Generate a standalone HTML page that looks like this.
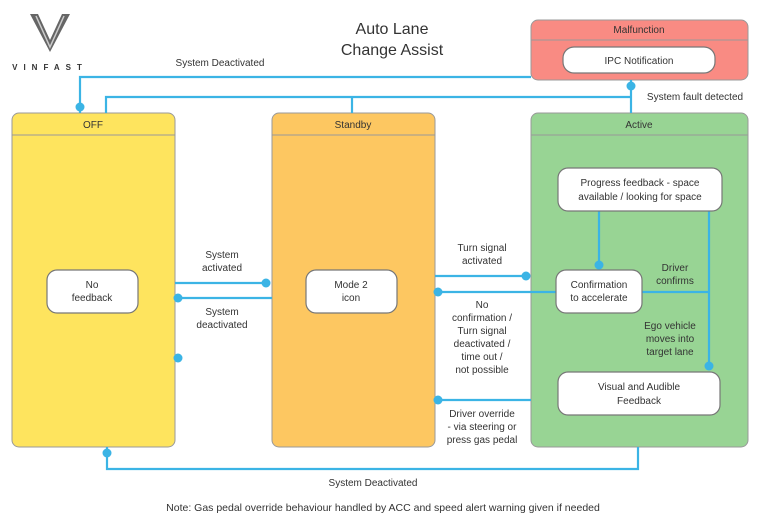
<!DOCTYPE html>
<html><head><meta charset="utf-8"><style>
html,body{margin:0;padding:0;background:#fff;}
svg{display:block;}
text{font-family:"Liberation Sans",sans-serif;fill:#333;}
</style></head><body>
<svg width="760" height="526" viewBox="0 0 760 526" xmlns="http://www.w3.org/2000/svg">
<!-- logo -->
<g>
<path d="M30 14 L50 52 L70 14 L62 14 L50 40 L38 14 Z" fill="#666"/>
<path d="M36 16 L50 47 L64 16" fill="none" stroke="#ccc" stroke-width="1.5"/>
<text x="50" y="70" font-size="8" text-anchor="middle" letter-spacing="6" fill="#666" font-weight="bold">VINFAST</text>
</g>
<text x="392" y="34" font-size="16" text-anchor="middle">Auto Lane</text>
<text x="392" y="55" font-size="16" text-anchor="middle">Change Assist</text>

<!-- boxes -->
<g stroke="#999" stroke-width="1">
<rect x="12" y="113" width="163" height="334" rx="7" fill="#fee45e"/>
<rect x="272" y="113" width="163" height="334" rx="7" fill="#fdc761"/>
<rect x="531" y="113" width="217" height="334" rx="7" fill="#98d494"/>
<rect x="531" y="20" width="217" height="60" rx="7" fill="#f98b83"/>
</g>
<g stroke="#999" stroke-width="1">
<line x1="12" y1="135" x2="175" y2="135"/>
<line x1="272" y1="135" x2="435" y2="135"/>
<line x1="531" y1="135" x2="748" y2="135"/>
<line x1="531" y1="40" x2="748" y2="40"/>
</g>
<text x="93" y="128" font-size="10" text-anchor="middle">OFF</text>
<text x="353" y="128" font-size="10" text-anchor="middle">Standby</text>
<text x="639" y="128" font-size="10" text-anchor="middle">Active</text>
<text x="639" y="33" font-size="10" text-anchor="middle">Malfunction</text>

<!-- connectors -->
<g stroke="#3bb4e5" stroke-width="2.2" fill="none">
<polyline points="80,113 80,77 531,77"/>
<polyline points="106,113 106,97 631,97"/>
<line x1="352" y1="97" x2="352" y2="113"/>
<line x1="631" y1="80" x2="631" y2="113"/>
<line x1="175" y1="283" x2="266" y2="283"/>
<line x1="178" y1="298" x2="272" y2="298"/>
<line x1="435" y1="276" x2="526" y2="276"/>
<line x1="438" y1="292" x2="556" y2="292"/>
<line x1="438" y1="400" x2="531" y2="400"/>
<line x1="599" y1="211" x2="599" y2="265"/>
<line x1="709" y1="211" x2="709" y2="366"/>
<line x1="642" y1="292" x2="709" y2="292"/>
<polyline points="107,447 107,469 638,469 638,447"/>
</g>

<g fill="#fff" stroke="#777" stroke-width="1.2">
<rect x="563" y="47" width="152" height="26" rx="11"/>
<rect x="47" y="270" width="91" height="43" rx="10"/>
<rect x="306" y="270" width="91" height="43" rx="10"/>
<rect x="558" y="168" width="164" height="43" rx="10"/>
<rect x="556" y="270" width="86" height="43" rx="10"/>
<rect x="558" y="372" width="162" height="43" rx="10"/>
</g>
<g font-size="10" text-anchor="middle">
<text x="639" y="64">IPC Notification</text>
<text x="92" y="288">No</text><text x="92" y="301">feedback</text>
<text x="351" y="288">Mode 2</text><text x="351" y="301">icon</text>
<text x="640" y="186">Progress feedback - space</text><text x="640" y="200">available / looking for space</text>
<text x="599" y="288">Confirmation</text><text x="599" y="301">to accelerate</text>
<text x="639" y="390">Visual and Audible</text><text x="639" y="404">Feedback</text>

<text x="220" y="66">System Deactivated</text>
<text x="695" y="100">System fault detected</text>
<text x="222" y="258">System</text><text x="222" y="271">activated</text>
<text x="222" y="315">System</text><text x="222" y="328">deactivated</text>
<text x="482" y="251">Turn signal</text><text x="482" y="264">activated</text>
<text x="482" y="308">No</text><text x="482" y="321">confirmation /</text><text x="482" y="334">Turn signal</text><text x="482" y="347">deactivated /</text><text x="482" y="360">time out /</text><text x="482" y="373">not possible</text>
<text x="482" y="417">Driver override</text><text x="482" y="430">- via steering or</text><text x="482" y="443">press gas pedal</text>
<text x="675" y="271">Driver</text><text x="675" y="284">confirms</text>
<text x="670" y="329">Ego vehicle</text><text x="670" y="342">moves into</text><text x="670" y="355">target lane</text>
<text x="373" y="486">System Deactivated</text>
<text x="383" y="511" font-size="10.5">Note: Gas pedal override behaviour handled by ACC and speed alert warning given if needed</text>
</g>

<!-- dots -->
<g fill="#3bb4e5">
<circle cx="80" cy="107" r="4.5"/>
<circle cx="631" cy="86" r="4.5"/>
<circle cx="266" cy="283" r="4.5"/>
<circle cx="178" cy="298" r="4.5"/>
<circle cx="178" cy="358" r="4.5"/>
<circle cx="526" cy="276" r="4.5"/>
<circle cx="438" cy="292" r="4.5"/>
<circle cx="438" cy="400" r="4.5"/>
<circle cx="599" cy="265" r="4.5"/>
<circle cx="709" cy="366" r="4.5"/>
<circle cx="107" cy="453" r="4.5"/>
</g>
</svg>
</body></html>
